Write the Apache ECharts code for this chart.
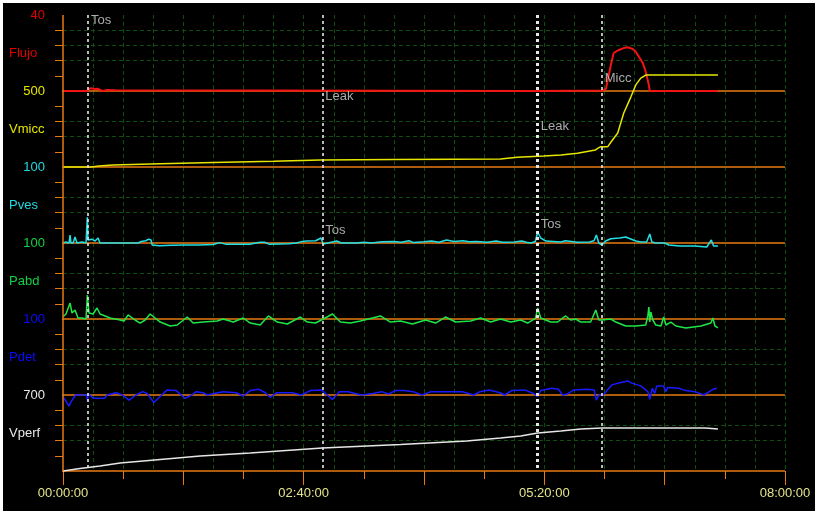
<!DOCTYPE html>
<html><head><meta charset="utf-8">
<script src="https://cdn.jsdelivr.net/npm/echarts@6/dist/echarts.min.js"></script>
<style>
html,body{margin:0;padding:0;background:#fff;width:815px;height:511px;overflow:hidden}
#c{position:absolute;left:3px;top:3px;width:812px;height:508px;background:#000}
</style></head><body><div id="c"></div>
<script>
// ---- channel definitions ----
const channelNames = ['Flujo', 'Vmicc', 'Pves', 'Pabd', 'Pdet', 'Vperf'];
const channelMax = [40, 500, 100, 100, 100, 700];
const timeMaxMin = 480; // minutes (08:00:00)

// ---- data: [time in minutes, value] ----
const flujo = [[0,0],[16.4,0],[17.2,1.2],[19,1.4],[21,1],[23,1.2],[25,0.4],[27,0],[29,0.5],[30,0],[35,0.4],[36,0],[315,0],[316,0.3],[358,0.3],[359.5,0.5],[361,1.2],[362,1.6],[364.2,13.7],[366.1,20],[369.5,21.6],[372.8,22.6],[375.5,23],[378.8,22.1],[380.8,20.7],[382.8,18.1],[385.5,14.7],[387.4,10.2],[389.5,3.2],[390.1,0],[435.4,0]];

const vmicc = [[0,0],[18.6,0],[19.3,6.6],[24,6.6],[24.6,13],[33,13],[33.3,20],[65,22],[100,30],[140,38],[171,46],[220,49],[260,51],[290.9,53],[302,64],[319.6,72],[331,79],[342,90],[354,112],[355.5,123],[357.5,134],[362.2,134],[364.8,171],[368.8,224],[372.8,355],[377.5,460],[380.8,540],[384.1,585],[387.4,605],[435.4,605]];

const pves = [[0,0],[2,1.3],[4,0],[4.7,10.5],[5.3,0],[6.7,0],[8,7.9],[9.3,0],[12.6,1.3],[15.3,0],[16.2,34],[16.6,4],[17.3,4],[19.3,5],[21.3,2.6],[23.3,6.6],[24.6,0],[50,0],[52,2],[55,3],[57,5],[58.5,4],[59.3,-2.6],[64,-3.5],[72,-3],[80,-2.5],[90,-2.6],[100,-2],[104,0.5],[108,-1.5],[118,-1.5],[124,-1.5],[131,1],[134,1],[137,-1.5],[150,-1],[155,0],[158,1.5],[162,2.5],[168,3],[171.5,6.6],[173,-1.3],[176,0],[182,2.6],[185,0],[195,0],[200,1],[205,0],[212,1.5],[220,2],[225,1],[230,3],[233,0.5],[240,1.5],[245,2.6],[250,1],[255,4],[260,2],[266,3],[270,1.5],[275,2],[282,1],[288,2.5],[292,1],[300,1.3],[305,2.6],[308,1],[311,0],[314,2],[315.6,14.5],[317.6,6.6],[321,2.6],[331,1.3],[334,3],[338,2],[342,1],[350,1.3],[353,3],[354.6,10.5],[356.2,0],[358.2,-2.6],[360.8,2.6],[364.2,5.6],[370,6.6],[374.1,7.9],[380.8,2.6],[384.1,1.3],[388,1.3],[390.1,11.8],[391.5,1.3],[394,0],[400,0],[402.8,-2.6],[410,-3.9],[420,-3.9],[428,-5.3],[431,4],[432.5,-3.9],[435.4,-3.9]];

const pabd = [[0,3],[2,6.6],[4.7,21],[6,7.9],[8,11.8],[10,1.3],[12.6,1.3],[15.3,0],[16.2,31.6],[17.3,7.9],[20,6.6],[22.6,14.5],[24.6,6.6],[28,4],[31.3,1.3],[38,-1.3],[40.6,-2.6],[43.3,5.3],[47.9,-1.3],[51.3,-5.3],[54.6,-1.3],[57.9,6.6],[64.6,-4],[71.2,-9.2],[75.9,-7.9],[82.6,2.6],[86.5,-5.3],[93.2,-4],[102.5,-2.6],[106.5,0],[113.2,-4],[119.8,1.3],[124.5,-5.3],[131.1,-7.9],[136.5,4],[142.5,-4],[149.1,-6.6],[157.8,2.6],[162.4,-4],[167.8,-5.3],[173.1,0],[179.1,6.6],[184.4,-4],[191.1,-5.3],[197.7,-2.6],[211,4],[217.7,-4],[224.4,-2.6],[232.3,-6.6],[241,-1.3],[247.7,-5.3],[254.3,2.6],[261,-4],[271,-2.6],[277.6,1.3],[284.3,-4],[290.9,0],[297.6,-4],[304.3,-1.3],[308.9,-5.3],[314.2,1.3],[315.6,14.5],[317.6,1.3],[320.9,-1.3],[324.2,-4],[328.9,-4],[332.2,1.3],[334.2,4],[337.5,-1.3],[340.9,0],[344.2,-4],[350.8,-4],[354.2,11.8],[356.2,-1.3],[358.2,-1.3],[364.2,0],[367.5,-4],[374.1,-9.2],[380.8,-9.2],[387.4,-7.9],[388.8,4],[389.5,15.8],[390.1,-4],[390.8,9.2],[392.1,-1.3],[394.1,-7.9],[397.5,-9.2],[399.4,2.6],[400.8,-7.9],[404.1,-4],[407.5,-9.2],[414.1,-11.8],[424.1,-9.2],[430.7,-5.3],[432.1,1.3],[433.4,-9.2],[435.4,-11.8]];

const pdet = [[0,-2],[1,-4.4],[4,-14.7],[5.3,-9],[8.4,0],[15.8,0],[16.4,-8.8],[16.6,2],[17,0],[20.3,-4.4],[27.7,-4.4],[29.3,0],[35.3,3],[39.6,0],[43.9,-6.7],[48.6,0],[53,4.4],[55.9,2],[60.4,-9.8],[64.6,-2],[69.2,6.7],[75.2,5.8],[81.2,-4.4],[85.7,0],[88.5,4.4],[93.2,3],[95.9,0],[100.5,2],[106.5,4.4],[115.2,3],[119.8,-1.3],[124.5,5.8],[130.3,7.5],[134.5,3],[137.8,-3],[142.1,3],[152.5,3],[158.4,0],[164.4,5.8],[171.8,6.7],[176.4,-1.3],[179.1,-5.8],[183.7,4.4],[189.7,4.4],[194.1,2],[198.4,0],[206,2],[211.7,4.4],[216.4,1.3],[221,5.8],[226.9,5.8],[232.8,4.4],[238.7,0],[244.7,4.4],[253.6,4.4],[265.5,4.4],[273,0],[277.3,4.4],[283.3,6.7],[290.7,3],[293.6,0],[298.3,5.8],[306.9,6.7],[312.9,2],[315.5,-2],[317.6,5.8],[324.9,8.9],[329.4,7.5],[332.2,0],[335.3,1.3],[339.5,6.7],[348.7,7.5],[353.2,6.7],[354.6,-6.7],[356.2,0],[359.1,0],[364.8,13.3],[370.8,16.4],[375.5,18.5],[378.1,15.6],[384.1,12],[388.8,4.4],[390.1,-5.8],[391.8,8.9],[393.3,2],[394.8,12],[399.2,12],[400.8,4.4],[402.1,10],[409.4,8.9],[414.1,5.8],[420.1,4.4],[426.1,0],[432.1,7.5],[434.7,8.9]];

const vperf = [[0,0],[11.3,24],[24.6,46],[38,74],[53.3,92],[91.2,138],[124.5,166],[172.4,212],[224.4,244],[268.3,276],[290.9,304],[304.3,322],[315.6,350],[330.9,368],[344.2,387],[358.2,396],[427,396],[428,387],[435.4,387]];

const channelData = [flujo, vmicc, pves, pabd, pdet, vperf];

// ---- event markers ----
const eventTimes = [16.6, 172.4, 315.6, 358.2];
const eventNames = ['Tos', 'Leak', 'Tos', 'Leak', 'Tos', 'Micc'];
const eventNameTimes = [16.6, 172.4, 172.4, 315.6, 315.6, 358.2];

// ---- styling (kept separate from data) ----
const lineColors = ['#f01414', '#e6e600', '#22e0e6', '#1ee646', '#1a1aff', '#e6e6e6'];
const textColors = ['#e00000', '#e6e600', '#22d8e0', '#10d040', '#0a0aff', '#e8e8e8'];
const lineWidths = [2, 1.5, 1.5, 1.5, 1.5, 1.5];
const eventLevels = [0.07, 1.07, 2.83, 1.46, 2.76, 0.83]; // label vertical placement, channel units from top
const markerWidths = [1.6, 1.6, 3, 1.6];
const baselineLeadMin = 8; // zero line runs a little left of the axis (tick), in minutes
const orange = '#e67a14';
const gridGreen = '#0d4d0d';
const FONT = '"Liberation Sans", Arial, sans-serif';
const GRID_LEFT = 60, GRID_RIGHT = 30, TOP = 12, ROW = 76;

const pad = n => String(n).padStart(2, '0');
const fmtTime = v => pad(Math.floor(v / 60)) + ':' + pad(Math.round(v % 60)) + ':00';

const grids = [], xAxes = [], yAxes = [], series = [];
channelNames.forEach((name, i) => {
  grids.push({show: false, left: GRID_LEFT, right: GRID_RIGHT, top: TOP + ROW * i, height: ROW, outerBoundsMode: 'none'});
  xAxes.push({
    type: 'value', gridIndex: i, position: 'bottom', min: 0, max: timeMaxMin, interval: 20,
    axisLine: {show: false}, axisTick: {show: false}, axisLabel: {show: false},
    splitLine: {show: true, showMinLine: false, lineStyle: {color: gridGreen, type: [4, 3], width: 1}}
  });
  const M = channelMax[i];
  const step = M / 5;
  yAxes.push({
    type: 'value', gridIndex: i, position: 'left', offset: 0, min: 0, max: M, interval: step,
    axisLine: {show: false},
    axisTick: {show: true, length: 8, customValues: [step, 2 * step, 3 * step, 4 * step], lineStyle: {color: orange, width: 1}},
    axisLabel: {
      show: true, customValues: [M / 2, M],
      formatter: v => (Math.abs(v - M) < 1e-6 ? String(M) : (Math.abs(v - M / 2) < 1e-6 ? '{n|' + name + '}' : '')),
      color: textColors[i], fontSize: 13, fontFamily: FONT, margin: 18,
      rich: {n: {width: 36, align: 'left', color: textColors[i], fontSize: 13, fontFamily: FONT}}
    },
    splitLine: {show: true, showMinLine: false, showMaxLine: i === 0, lineStyle: {color: gridGreen, type: [4, 3], width: 1}}
  });
  // channel zero line (orange), beneath the trace
  series.push({
    type: 'line', xAxisIndex: i, yAxisIndex: i, data: [[-baselineLeadMin, 0], [timeMaxMin, 0]],
    showSymbol: false, symbol: 'none', clip: false, z: 2, silent: true,
    lineStyle: {color: orange, width: 1.5}
  });
  series.push({
    type: 'line', xAxisIndex: i, yAxisIndex: i, data: channelData[i],
    showSymbol: false, symbol: 'none', clip: false, z: 3,
    lineStyle: {color: lineColors[i], width: lineWidths[i]}
  });
});

// bottom time axis: short ticks (40 min) and long ticks + labels (80 min)
xAxes.push({
  type: 'value', gridIndex: 5, position: 'bottom', offset: 0, min: 0, max: timeMaxMin, interval: 40,
  axisLine: {show: false}, axisTick: {show: true, inside: false, length: 8, lineStyle: {color: orange, width: 1}},
  axisLabel: {show: false}, splitLine: {show: false}
});
xAxes.push({
  type: 'value', gridIndex: 5, position: 'bottom', offset: 0, min: 0, max: timeMaxMin, interval: 80,
  axisLine: {show: false}, axisTick: {show: true, inside: false, length: 14, lineStyle: {color: orange, width: 1}},
  axisLabel: {show: true, formatter: v => (v % 160 === 0 ? fmtTime(v) : ''), color: '#e4e48c', fontSize: 13, fontFamily: FONT, margin: 16},
  splitLine: {show: false}
});

// overlay: left axis line + event markers
grids.push({show: false, left: GRID_LEFT, right: GRID_RIGHT, top: TOP, height: ROW * 6, outerBoundsMode: 'none'});
xAxes.push({type: 'value', gridIndex: 6, min: 0, max: timeMaxMin, show: false});
yAxes.push({type: 'value', gridIndex: 6, min: 0, max: 6, inverse: true, show: false});
const ox = xAxes.length - 1, oy = yAxes.length - 1;
series.push({
  type: 'scatter', xAxisIndex: ox, yAxisIndex: oy, z: 2, silent: true, symbolSize: 0,
  data: [[0, 0]],
  label: {show: false},
  markLine: {
    silent: true, symbol: ['none', 'none'], label: {show: false},
    lineStyle: {color: orange, type: 'solid', width: 1.5},
    data: [{xAxis: 0, lineStyle: {color: orange, type: 'solid', width: 1.5}}]
  }
});
series.push({
  type: 'scatter', xAxisIndex: ox, yAxisIndex: oy, z: 10, silent: true,
  symbolSize: 0,
  data: eventNames.map((n, k) => [eventNameTimes[k], eventLevels[k], n]),
  label: {show: true, position: 'right', distance: 3, formatter: p => p.data[2], color: '#d4d4d4', fontSize: 13, fontFamily: FONT},
  markLine: {
    silent: true, symbol: ['none', 'none'], label: {show: false},
    lineStyle: {color: '#e6e6e6', type: [3, 3], width: 1.6},
    data: eventTimes.map((t, k) => ({xAxis: t, lineStyle: {color: '#e6e6e6', type: [3, 3], width: markerWidths[k]}}))
  }
});

const chart = echarts.init(document.getElementById('c'), null, {renderer: 'canvas'});
chart.setOption({
  backgroundColor: '#000',
  animation: false,
  textStyle: {fontFamily: FONT},
  grid: grids, xAxis: xAxes, yAxis: yAxes, series: series
});
</script></body></html>
